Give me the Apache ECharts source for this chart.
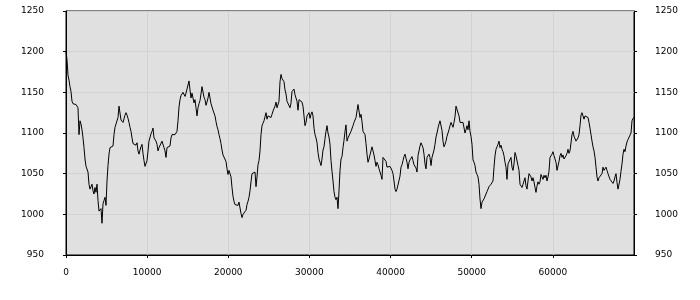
<!DOCTYPE html>
<html>
<head>
<meta charset="utf-8">
<script src="https://cdn.jsdelivr.net/npm/echarts@6/dist/echarts.min.js"></script>
<style>
html,body{margin:0;padding:0;background:#fff;}
#chart{width:700px;height:300px;}
</style>
</head>
<body>
<div id="chart"></div>
<script>
// x range of the series (first and last sample)
const xStart = 0;
const xEnd = 70000;
const xTicks = [0, 10000, 20000, 30000, 40000, 50000, 60000];
const yTicks = [950, 1000, 1050, 1100, 1150, 1200, 1250];

// values, uniformly spaced from xStart to xEnd
const segment1 = [
1200,1190,1171,1165,1157,1151,1139,1136,1135,1135,
1135,1133,1131,1098,1115,1111,1104,1094,1082,1068,
1059,1057,1052,1037,1031,1033,1037,1029,1025,1033,
1027,1037,1017,1004,1002,1007,989,1013,1017,1021,
1011,1041,1060,1074,1082,1081,1080,1084,1098,1107,
1107,1106,1119,1133,1131,1116,1114,1113,1115,1122,
1125,1122,1118,1113,1107,1102,1094,1087,1086,1085,
1085,1088,1078,1074,1079,1083,1086,1075,1066,1059,
1059,1066,1078,1090,1088,1099,1102,1106,1094,1092,
1090,1086,1078,1082
];
const segment2 = [
1084,1082,1090,1092,1082,1078,1070,1082,1082,1083,
1084,1094,1098,1099,1097,1098,1100,1102,1115,1132,
1141,1146,1148,1150,1152,1145,1149,1151,1159,1164,
1153,1143,1149,1143,1137,1141,1131,1121,1131,1136,
1140,1148,1157,1157,1144,1141,1134,1138,1143,1150,
1151,1136,1132,1128,1126,1121,1114,1108,1104,1098,
1093,1087,1079,1073,1073,1072,1065,1056,1049,1054,
1054,1046,1033,1022,1016,1012,1010,1012,1011,1015,
1013,1001,996,1000,1002,1002,1005,1012,1016,1021,
1029,1040
];
const segment3 = [
1050,1052,1048,1052,1034,1046,1061,1066,1078,1098,
1109,1112,1115,1120,1125,1117,1121,1119,1121,1119,
1123,1127,1129,1133,1138,1131,1133,1139,1163,1172,
1167,1167,1163,1153,1148,1139,1140,1139,1131,1137,
1151,1151,1154,1147,1148,1139,1128,1141,1143,1141,
1138,1133,1121,1109,1113,1121,1122,1125,1118,1123,
1126,1121,1106,1098,1094,1088,1076,1068,1064,1060,
1068,1079,1083,1093,1102,1109,1100,1095,1086,1066,
1053,1041,1028,1021,1018,1021,1007,1029,1054,1068,
1071,1082,1091,1102
];
const segment4 = [
1110,1090,1094,1092,1096,1102,1104,1109,1113,1115,
1119,1127,1135,1133,1119,1123,1114,1102,1100,1098,
1087,1074,1064,1068,1073,1078,1083,1078,1073,1066,
1059,1064,1061,1056,1054,1048,1043,1070,1071,1072,
1065,1058,1059,1060,1059,1058,1054,1050,1041,1031,
1028,1031,1029,1031,1047,1058,1061,1066,1071,1074,
1069,1064,1056,1064,1067,1066,1071,1066,1061,1060,
1057,1052,1072,1078,1084,1088,1085,1082,1074,1062,
1056,1070,1072,1074,1070,1060,1070,1072,1079,1086,
1095,1100,1106,1111
];
const segment5 = [
1115,1113,1103,1090,1083,1086,1090,1096,1100,1104,
1109,1113,1115,1107,1113,1120,1133,1135,1133,1121,
1113,1113,1115,1113,1111,1100,1104,1109,1104,1115,
1102,1096,1086,1067,1064,1060,1052,1049,1046,1037,
1019,1007,1015,1015,1019,1019,1025,1028,1031,1034,
1033,1037,1039,1041,1058,1072,1080,1083,1086,1090,
1082,1085,1080,1077,1072,1064,1058,1043,1062,1061,
1060,1070,1058,1054,1062,1076,1072,1071,1060,1054,
1037,1037,1033,1037,1037,1045,1035,1031,1041,1050,
1050,1046,1041,1045
];
const segment6 = [
1040,1033,1027,1035,1040,1037,1040,1049,1048,1043,
1048,1045,1048,1041,1046,1053,1070,1072,1074,1077,
1072,1071,1064,1054,1056,1065,1072,1075,1070,1073,
1068,1068,1072,1075,1080,1075,1078,1078,1098,1102,
1096,1094,1090,1090,1094,1098,1109,1122,1125,1125,
1117,1121,1121,1120,1119,1113,1106,1098,1090,1083,
1078,1070,1058,1046,1041,1045,1043,1046,1050,1058,
1054,1052,1058,1054,1050,1050,1043,1045,1045,1038,
1041,1046,1050,1039,1031,1031,1043,1053,1062,1074,
1080,1077,1084,1089,1092,1093,1092,1100,1115,1118,
1119
];

const values = [].concat(segment1, segment2, segment3, segment4, segment5, segment6);
const step = (xEnd - xStart) / (values.length - 1);
const lineData = values.map((v, i) => [xStart + i * step, v]);

const plain = v => String(v);
const font = { fontFamily: 'DejaVu Sans', fontSize: 9, color: '#000', formatter: plain };
const yAxisBase = (pos, margin) => ({
  type: 'value',
  position: pos,
  min: yTicks[0],
  max: yTicks[yTicks.length - 1],
  interval: yTicks[1] - yTicks[0],
  axisLine: { show: true, lineStyle: { color: '#000', width: 1 } },
  axisTick: { show: true, length: 3, lineStyle: { color: '#000' } },
  axisLabel: Object.assign({ margin: margin }, font),
  splitLine: { show: pos === 'left', lineStyle: { color: '#d2d2d2', width: 1 } }
});

const chart = echarts.init(document.getElementById('chart'), null, { renderer: 'canvas' });
chart.setOption({
  animation: false,
  backgroundColor: '#ffffff',
  grid: {
    left: 66, right: 66, top: 11, bottom: 45,
    show: true, backgroundColor: '#e0e0e0', borderColor: '#000', borderWidth: 1
  },
  xAxis: {
    type: 'value',
    min: xStart,
    max: xEnd,
    interval: xTicks[1] - xTicks[0],
    axisLine: { show: true, lineStyle: { color: '#000', width: 1 } },
    axisTick: { show: true, length: 3, lineStyle: { color: '#000' } },
    axisLabel: Object.assign({ margin: 13, showMaxLabel: false }, font),
    splitLine: { show: true, lineStyle: { color: '#d2d2d2', width: 1 } }
  },
  yAxis: [yAxisBase('left', 22), yAxisBase('right', 21)],
  series: [{
    type: 'line',
    data: lineData,
    showSymbol: false,
    symbol: 'none',
    lineStyle: { color: '#000', width: 1 },
    silent: true
  }]
});
</script>
</body>
</html>
